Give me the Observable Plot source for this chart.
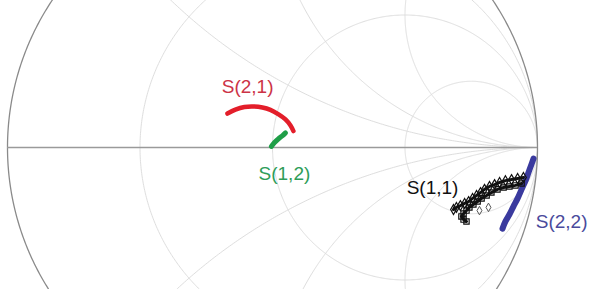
<!DOCTYPE html>
<html><head><meta charset="utf-8">
<script src="https://cdn.jsdelivr.net/npm/d3@7"></script>
<script src="https://cdn.jsdelivr.net/npm/@observablehq/plot@0.6"></script>
<style>body{margin:0;background:#fff;overflow:hidden}</style>
</head><body><div id="chart"></div>
<script>
// Smith chart grid values
const resistanceCircles = [1/3, 1, 3];
const reactanceCircles = [0.5, 1, 2, -0.5, -1, -2];

// Reflection coefficients (Re, Im)
const s21Re = [-0.170, -0.140, -0.106, -0.072, -0.038, -0.008, 0.023, 0.049, 0.068, 0.079];
const s21Im = [ 0.128,  0.143,  0.153,  0.155,  0.151,  0.142, 0.125, 0.106, 0.083, 0.062];

const s12Re = [-0.004, 0.004, 0.015, 0.026, 0.038, 0.049];
const s12Im = [ 0.004, 0.015, 0.026, 0.036, 0.045, 0.055];

const s22Re = [0.985, 0.977, 0.966, 0.955, 0.940, 0.925, 0.909, 0.894, 0.879, 0.868];
const s22Im = [-0.042, -0.064, -0.094, -0.125, -0.158, -0.192, -0.223, -0.253, -0.279, -0.306];

const s11aRe = [0.947, 0.925, 0.902, 0.879, 0.857, 0.838, 0.819, 0.800, 0.785, 0.770, 0.755, 0.740, 0.725, 0.709, 0.694, 0.683];
const s11aIm = [-0.113, -0.117, -0.121, -0.125, -0.132, -0.140, -0.147, -0.158, -0.170, -0.181, -0.192, -0.204, -0.211, -0.219, -0.226, -0.234];
const s11bRe = [0.940, 0.917, 0.894, 0.872, 0.849, 0.826, 0.808, 0.789, 0.774, 0.758, 0.743, 0.732, 0.721, 0.713, 0.721, 0.732];
const s11bIm = [-0.136, -0.143, -0.147, -0.151, -0.158, -0.170, -0.181, -0.192, -0.204, -0.215, -0.226, -0.238, -0.249, -0.260, -0.272, -0.279];
const s11strayRe = [0.781, 0.815];
const s11strayIm = [-0.238, -0.226];

const labelText = ["S(2,1)", "S(1,2)", "S(1,1)", "S(2,2)"];
const labelRe = [-0.094, 0.045, 0.604, 1.091];
const labelIm = [0.230, -0.098, -0.151, -0.279];
const labelColor = ["#cc3346", "#2e9d58", "#111111", "#4a4a9c"];

// view window (pixels of the chart centre / radius)
const CX = 272, CY = 147, RAD = 265, W = 589, H = 289;

const zip = (re, im) => re.map((u, i) => ({u, v: im[i]}));

function arc(cu, cv, rad, t0, t1, id, inside) {
  const out = [];
  for (let k = 0; k <= 720; k++) {
    const t = t0 + (t1 - t0) * k / 720;
    const u = cu + rad * Math.cos(t), v = cv + rad * Math.sin(t);
    if (!inside || u*u + v*v <= 1.0000001) out.push({u, v, id});
  }
  return out;
}

const grid = [];
resistanceCircles.forEach(r => grid.push(...arc(r/(1+r), 0, 1/(1+r), 0, 2*Math.PI, "r"+r, false)));
reactanceCircles.forEach(x => grid.push(...arc(1, 1/x, 1/Math.abs(x), Math.PI/2, 3*Math.PI/2, "x"+x, true)));
const outer = arc(0, 0, 1, 0, 2*Math.PI, "o", false);

const labels = labelText.map((t, i) => ({t, u: labelRe[i], v: labelIm[i], c: labelColor[i]}));

const chart = Plot.plot({
  width: W, height: H, margin: 0,
  style: {background: "#fff", fontFamily: "'Liberation Sans', Arial, sans-serif"},
  x: {domain: [-CX/RAD, (W-CX)/RAD], range: [0, W], axis: null},
  y: {domain: [-(H-CY)/RAD, CY/RAD], range: [H, 0], axis: null},
  marks: [
    Plot.line(grid, {x: "u", y: "v", z: "id", stroke: "#dedede", strokeWidth: 1, clip: true}),
    Plot.line(outer, {x: "u", y: "v", stroke: "#8a8a8a", strokeWidth: 1.3, clip: true}),
    Plot.ruleY([0], {x1: -1, x2: 1, stroke: "#9a9a9a", strokeWidth: 1.6}),
    Plot.line(zip(s21Re, s21Im), {x: "u", y: "v", stroke: "#e31e2a", strokeWidth: 4.5, strokeLinecap: "round", curve: "catmull-rom"}),
    Plot.line(zip(s12Re, s12Im), {x: "u", y: "v", stroke: "#1f9e48", strokeWidth: 5, strokeLinecap: "round", curve: "catmull-rom"}),
    Plot.line(zip(s22Re, s22Im), {x: "u", y: "v", stroke: "#3a3a9e", strokeWidth: 6, strokeLinecap: "round", curve: "catmull-rom"}),
    Plot.line(zip(s11aRe, s11aIm), {x: "u", y: "v", stroke: "#111", strokeWidth: 3}),
    Plot.line(zip(s11bRe, s11bIm), {x: "u", y: "v", stroke: "#111", strokeWidth: 3}),
    Plot.dot(zip(s11aRe, s11aIm), {x: "u", y: "v", symbol: "diamond", r: 3, stroke: "#111", fill: "none", strokeWidth: 1.2}),
    Plot.dot(zip(s11bRe, s11bIm), {x: "u", y: "v", symbol: "square", r: 3, stroke: "#111", fill: "none", strokeWidth: 1.2}),
    Plot.dot(zip(s11strayRe, s11strayIm), {x: "u", y: "v", symbol: "diamond", r: 2.6, stroke: "#555", fill: "none", strokeWidth: 1}),
    Plot.text(labels, {x: "u", y: "v", text: "t", fill: "c", fontSize: 19, textAnchor: "middle"})
  ]
});
document.getElementById("chart").appendChild(chart);
</script>
</body></html>
